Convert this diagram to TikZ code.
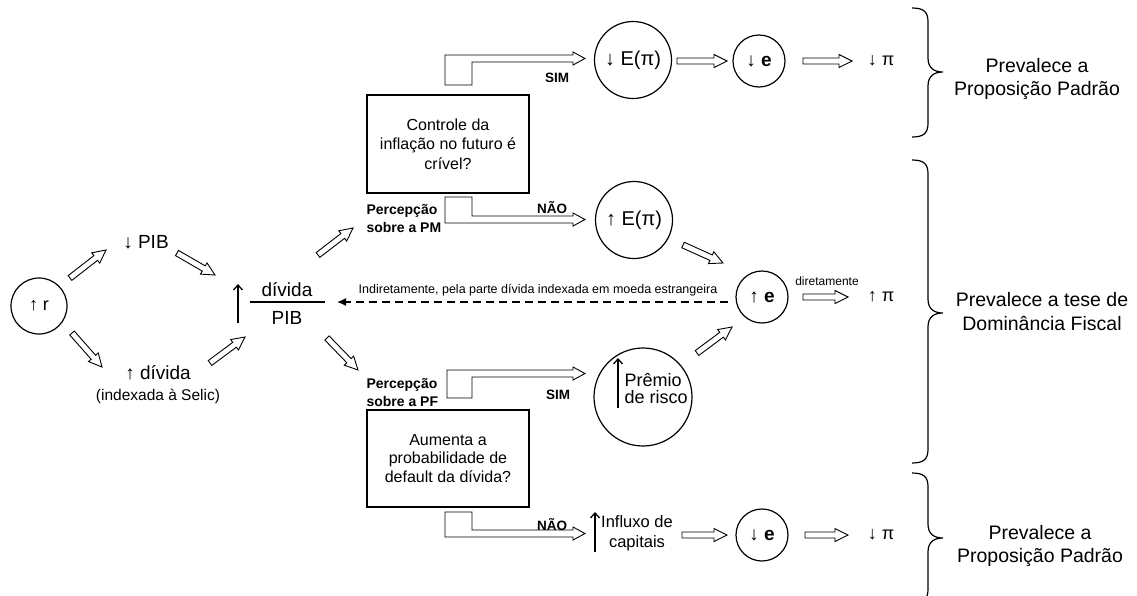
\documentclass[tikz,border=0pt]{standalone}
\usepackage{fontspec}
\setmainfont{Liberation Sans}
\usetikzlibrary{calc,arrows.meta}
\newcommand\fsz[2]{\fontsize{#1}{#2}\selectfont}
% hollow block arrow from coordinate #1 to coordinate #2
\newcommand\harrow[2]{%
  \path ($(#2)!13pt!(#1)$) coordinate (#1b);
  \draw[hollow] ($(#1)!3pt!90:(#2)$) -- ($(#1b)!3pt!90:(#2)$) -- ($(#1b)!6.5pt!90:(#2)$) -- (#2)
    -- ($(#1b)!6.5pt!-90:(#2)$) -- ($(#1b)!3pt!-90:(#2)$) -- ($(#1)!3pt!-90:(#2)$) -- cycle;}
% curly brace: x, top, tip, bottom
\newcommand\curly[4]{%
  \draw[bracestyle] (#1,#2) .. controls (#1+12,#2) and (#1+16,#2+4) .. (#1+16,#2+14)
    -- (#1+16,#3-14) .. controls (#1+16,#3-4) and (#1+22,#3) .. (#1+31,#3)
    .. controls (#1+22,#3) and (#1+16,#3+4) .. (#1+16,#3+14)
    -- (#1+16,#4-14) .. controls (#1+16,#4-4) and (#1+12,#4) .. (#1,#4);}
\tikzset{
  circ/.style={circle, draw, line width=1.2pt, inner sep=0pt},
  hollow/.style={draw, line width=0.9pt, fill=white, line join=miter},
  qbox/.style={draw, line width=1.2pt, minimum width=162pt, minimum height=98pt, align=center, inner sep=0pt},
  thinup/.style={line width=1.3pt, -{Straight Barb[length=5pt,width=9pt]}},
  dashedarrow/.style={line width=1.3pt, dash pattern=on 8pt off 5pt, -{Latex[length=9pt,width=8pt]}},
  bracestyle/.style={line width=1.2pt},
  lbl/.style={font=\bfseries\fsz{13.5}{16}},
  perc/.style={anchor=west, align=left, font=\bfseries\fsz{14}{17.5}},
  big/.style={font=\fsz{19}{22}},
  concl/.style={align=center, font=\fsz{19.5}{23.5}},
}
\begin{document}
\begin{tikzpicture}[x=1pt,y=-1pt]
\useasboundingbox (0,0) rectangle (1137,595);
\clip (0,0) rectangle (1137,595);
\fill[white] (0,0) rectangle (1137,595);

% left part
\node[circ, minimum size=56pt, font=\fsz{18}{21}] (r) at (39,306) {↑ r};
\node[big] (pib) at (146,242) {↓ PIB};
\node[big] (div) at (158,373) {↑ dívida};
\node[font=\fsz{15.5}{18}] (sel) at (158,396) {(indexada à Selic)};
\node[big] (num) at (287,290) {dívida};
\node[big] (den) at (287,318) {PIB};
\coordinate (fl) at (250,302); \coordinate (fr) at (325,302);
\draw[line width=1.2pt] (fl) -- (fr);
\coordinate (ua1) at (238,323); \coordinate (ua2) at (238,284);
\draw[thinup] (ua1) -- (ua2);

\coordinate (a1s) at (70,278);  \coordinate (a1e) at (106,250);
\coordinate (a2s) at (177,253); \coordinate (a2e) at (215,275);
\coordinate (a3s) at (72,333);  \coordinate (a3e) at (102,367);
\coordinate (a4s) at (210,363); \coordinate (a4e) at (245,337);
\coordinate (a5s) at (318,255); \coordinate (a5e) at (353,228);
\coordinate (a6s) at (327,338); \coordinate (a6e) at (358,370);
\harrow{a1s}{a1e}
\harrow{a2s}{a2e}
\harrow{a3s}{a3e}
\harrow{a4s}{a4e}
\harrow{a5s}{a5e}
\harrow{a6s}{a6e}

% question boxes
\node[qbox, font=\fsz{16}{19.5}] (q1) at (448,144) {Controle da\\inflação no futuro é\\crível?};
\node[qbox, minimum height=97pt, font=\fsz{16}{18.5}] (q2) at (448,458.5) {Aumenta a\\probabilidade de\\default da dívida?};
\node[perc] (pm) at (363,218.5) {Percepção\\sobre a PM};
\node[perc] (pf) at (363,392.5) {Percepção\\sobre a PF};

% bent arrows
\draw[hollow] (445,85) -- (445,55) -- (573,55) -- (573,52) -- (585,58.5) -- (573,65) -- (573,62) -- (472,62) -- (472,85) -- cycle;
\draw[hollow] (445,197) -- (472,197) -- (472,216) -- (573,216) -- (573,213) -- (585,219.5) -- (573,226) -- (573,223) -- (445,223) -- cycle;
\draw[hollow] (447,398) -- (447,370) -- (573,370) -- (573,367) -- (585,373.5) -- (573,380) -- (573,377) -- (472,377) -- (472,398) -- cycle;
\draw[hollow] (445,512) -- (472,512) -- (472,530) -- (573,530) -- (573,527) -- (585,533.5) -- (573,540) -- (573,537) -- (445,537) -- cycle;
\node[lbl] (sim1) at (557,78) {SIM};
\node[lbl] (nao1) at (552,208) {NÃO};
\node[lbl] (sim2) at (558,395) {SIM};
\node[lbl] (nao2) at (552,525) {NÃO};

% middle column
\node[circ, minimum size=77pt, font=\fsz{20}{24}] (ed) at (633,60) {↓ E(π)};
\node[circ, minimum size=77pt, font=\fsz{20}{24}] (eu) at (634,220) {↑ E(π)};
\node[circ, minimum size=98pt] (pr) at (643,397) {};
\coordinate (pra) at (618,408); \coordinate (prb) at (618,358);
\draw[thinup] (pra) -- (prb);
\node[anchor=west, align=left, font=\fsz{18}{17}] (prt) at (621,389) {Prêmio\\de risco};
\coordinate (ia) at (595,552); \coordinate (ib) at (595,512);
\draw[thinup] (ia) -- (ib);
\node[align=center, font=\fsz{16.5}{20}] (inf) at (637,533) {Influxo de\\capitais};

% e circles and pi
\node[circ, minimum size=52pt, font=\fsz{19}{22}] (e1) at (759,61) {↓ \textbf{e}};
\node[circ, minimum size=52pt, font=\fsz{19}{22}] (e2) at (762,297) {↑ \textbf{e}};
\node[circ, minimum size=52pt, font=\fsz{19}{22}] (e3) at (762,535) {↓ \textbf{e}};
\node[font=\fsz{18}{21}] (p1) at (881,61) {↓ π};
\node[font=\fsz{18}{21}] (p2) at (881,297) {↑ π};
\node[font=\fsz{18}{21}] (p3) at (881,535) {↓ π};
\node[font=\fsz{12}{14}] (dir) at (827,281) {diretamente};

\coordinate (a7s) at (677,61);  \coordinate (a7e) at (727,61);
\coordinate (a8s) at (803,61);  \coordinate (a8e) at (852,61);
\coordinate (a9s) at (683,245); \coordinate (a9e) at (723,263);
\coordinate (a10s) at (803,297); \coordinate (a10e) at (848,297);
\coordinate (a11s) at (697,353); \coordinate (a11e) at (732,327);
\coordinate (a12s) at (682,535); \coordinate (a12e) at (727,535);
\coordinate (a13s) at (805,535); \coordinate (a13e) at (848,535);
\harrow{a7s}{a7e}
\harrow{a8s}{a8e}
\harrow{a9s}{a9e}
\harrow{a10s}{a10e}
\harrow{a11s}{a11e}
\harrow{a12s}{a12e}
\harrow{a13s}{a13e}

% dashed feedback
\coordinate (ds) at (728,302); \coordinate (dt) at (337,302);
\draw[dashedarrow] (ds) -- (dt);
\node[font=\fsz{12.5}{14}] (ind) at (538,290) {Indiretamente, pela parte dívida indexada em moeda estrangeira};

% braces and conclusions
\curly{912}{8}{72}{137}
\curly{912}{160}{313}{463}
\curly{912}{473}{538}{603}
\node[concl] (c1) at (1037,79) {Prevalece a\\Proposição Padrão};
\node[concl] (c2) at (1042,311.5) {Prevalece a tese de\\Dominância Fiscal};
\node[concl] (c3) at (1040,546) {Prevalece a\\Proposição Padrão};
\end{tikzpicture}
\end{document}
